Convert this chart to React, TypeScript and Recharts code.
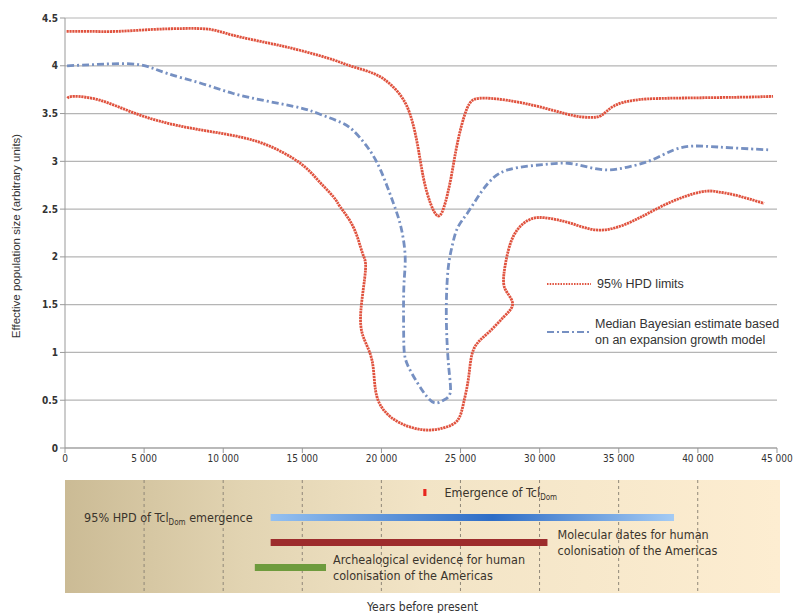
import {
  LineChart, Line, XAxis, YAxis, CartesianGrid, Legend,
  ComposedChart, Bar, Cell, LabelList,
} from 'recharts'

// ---- top panel: effective population size through time ----
const upperYears = [100, 1500, 3300, 5500, 7500, 9200, 10600, 12800, 14900, 17000, 18000, 19500, 20600, 21600, 22250, 22650, 23100, 23550, 23950, 24400, 24800, 25400, 26200, 27900, 30000, 32100, 33200, 33900, 34700, 36000, 38100, 42300, 44750]
const upperSize = [4.36, 4.36, 4.36, 4.38, 4.39, 4.38, 4.32, 4.24, 4.16, 4.06, 4.0, 3.92, 3.8, 3.58, 3.2, 2.83, 2.56, 2.43, 2.52, 2.83, 3.19, 3.55, 3.66, 3.64, 3.57, 3.48, 3.46, 3.48, 3.58, 3.64, 3.66, 3.67, 3.68]

const medianYears = [130, 1500, 2850, 4750, 6450, 8540, 10630, 12780, 14870, 16000, 17400, 18230, 19110, 19940, 20760, 21250, 21500, 21420, 21400, 21430, 21650, 22280, 22910, 23420, 23920, 24350, 24250, 24100, 24200, 24450, 24800, 25440, 26270, 27090, 27970, 29240, 30500, 31770, 33040, 34300, 35570, 37030, 38480, 39750, 41270, 43350, 44500]
const medianSize = [4.0, 4.01, 4.02, 4.01, 3.92, 3.82, 3.71, 3.63, 3.56, 3.5, 3.41, 3.32, 3.15, 2.91, 2.56, 2.3, 2.0, 1.7, 1.3, 1.03, 0.87, 0.68, 0.53, 0.47, 0.5, 0.58, 0.85, 1.37, 1.85, 2.1, 2.3, 2.46, 2.67, 2.83, 2.91, 2.95, 2.97, 2.98, 2.94, 2.91, 2.94, 3.01, 3.12, 3.16, 3.15, 3.13, 3.12]

const lowerYears = [150, 600, 2200, 4300, 6450, 8540, 10630, 12780, 14870, 16000, 16960, 17410, 18230, 18800, 18990, 18700, 18860, 19400, 19620, 20130, 21200, 22660, 23920, 24810, 25190, 25510, 25820, 26710, 27720, 28290, 27970, 27720, 27850, 28350, 29240, 30300, 32000, 33860, 35950, 38100, 40190, 41270, 42280, 44180]
const lowerSize = [3.66, 3.68, 3.64, 3.51, 3.4, 3.33, 3.27, 3.17, 2.98, 2.8, 2.63, 2.52, 2.31, 2.04, 1.86, 1.44, 1.16, 0.92, 0.61, 0.4, 0.26, 0.19, 0.21, 0.29, 0.47, 0.74, 1.03, 1.2, 1.37, 1.5, 1.62, 1.73, 1.94, 2.22, 2.38, 2.41, 2.35, 2.28, 2.38, 2.56, 2.68, 2.68, 2.65, 2.56]

const yearTicks = [0, 5000, 10000, 15000, 20000, 25000, 30000, 35000, 40000, 45000]
const sizeTicks = [0, 0.5, 1, 1.5, 2, 2.5, 3, 3.5, 4, 4.5]
const gridYears = [5000, 10000, 15000, 20000, 25000, 30000, 35000, 40000]

// ---- bottom panel: dated events ----
const timelineRows = ['emergence', 'hpd', 'molecular', 'archaeology']
const timelineStart = [22650, 13000, 13000, 12000]
const timelineEnd = [22850, 38500, 30500, 16500]
const timelineNotes = [
  ['Emergence of Tcl_Dom_'],
  ['95% HPD of Tcl_Dom_ emergence'],
  ['Molecular dates for human', 'colonisation of the Americas'],
  ['Archealogical evidence for human', 'colonisation of the Americas'],
]

const zip = (xs: number[], ys: number[]) => xs.map((x, i) => ({ x, y: ys[i] }))
const upperData = zip(upperYears, upperSize)
const medianData = zip(medianYears, medianSize)
const lowerData = zip(lowerYears, lowerSize)
const timelineData = timelineRows.map((row, i) => ({ row, span: [timelineStart[i], timelineEnd[i]] }))

const SANS = '"Liberation Sans", Arial, Helvetica, sans-serif'
const NARROW = '"Liberation Sans Narrow", "DejaVu Sans Condensed", Arial, sans-serif'
const HPD_RED = '#e0533f'
const MEDIAN_BLUE = '#7690c2'
const TIMELINE_MAX = 45200

const barFills = ['#e8261e', 'url(#hpdGrad)', '#9d2c2c', '#6e9b3d']
const noteSide = ['right', 'left', 'right', 'right']
const noteGap = [18, 18, 10, 7]

const fmtYears = (v: number) => (v === 0 ? '0' : `${v / 1000} 000`)

function rich(s: string) {
  return s.split('_').map((part, i) =>
    i % 2 ? (
      <tspan key={i} dy={3} fontSize={8}>{part}</tspan>
    ) : (
      <tspan key={i} dy={i > 0 ? -3 : 0}>{part}</tspan>
    ),
  )
}

function YTitle(props: any) {
  const vb = props.viewBox || {}
  const cx = 16
  const cy = (vb.y ?? 18) + (vb.height ?? 430) / 2 + 3
  return (
    <text
      x={cx} y={cy} transform={`rotate(-90, ${cx}, ${cy})`}
      textAnchor="middle" dominantBaseline="central"
      fontFamily={SANS} fontSize={11.5} fill="#333"
    >
      Effective population size (arbitrary units)
    </text>
  )
}

function XTitle(props: any) {
  const vb = props.viewBox || {}
  const cx = (vb.x ?? 65) + (vb.width ?? 715) / 2
  return (
    <text x={cx} y={(vb.y ?? 593) + 18} textAnchor="middle" fontFamily={NARROW} fontSize={12} fill="#333">
      Years before present
    </text>
  )
}

function LegendBox() {
  return (
    <div style={{ fontFamily: SANS, fontSize: 12.5, color: '#333', lineHeight: '16px' }}>
      <div style={{ display: 'flex', alignItems: 'center', height: 20 }}>
        <svg width={48} height={6}>
          <line x1={2} y1={3} x2={46} y2={3} stroke={HPD_RED} strokeWidth={2} strokeDasharray="1.5 1.2" />
        </svg>
        <span style={{ marginLeft: 4 }}>95% HPD limits</span>
      </div>
      <div style={{ display: 'flex', alignItems: 'center', marginTop: 22 }}>
        <svg width={48} height={6}>
          <line x1={2} y1={3} x2={46} y2={3} stroke={MEDIAN_BLUE} strokeWidth={2} strokeDasharray="7 3 2 3" />
        </svg>
        <span style={{ marginLeft: 2, whiteSpace: 'nowrap' }}>
          Median Bayesian estimate based<br />on an expansion growth model
        </span>
      </div>
    </div>
  )
}

function renderNote(props: any) {
  const { x, y, width, height, index } = props
  const lines = timelineNotes[index]
  const left = noteSide[index] === 'left'
  const tx = left ? x - noteGap[index] : x + width + noteGap[index]
  const cy = y + height / 2
  return (
    <g>
      {lines.map((ln, i) => (
        <text
          key={i} x={tx} y={cy + (i - (lines.length - 1) / 2) * 16 + 4}
          textAnchor={left ? 'end' : 'start'} fontFamily={NARROW} fontSize={12.5} fill="#3a342c"
        >
          {rich(ln)}
        </text>
      ))}
    </g>
  )
}

// vertical dashed guides at the same years as the ticks of the top axis
function guideXs(props: any) {
  const scale = props?.xAxis?.scale
  if (scale && typeof scale === 'function') return gridYears.map((v) => scale(v))
  const off = props?.offset || { left: 65, width: 715 }
  return gridYears.map((v) => off.left + (v / TIMELINE_MAX) * off.width)
}

export default function App() {
  return (
    <div style={{ position: 'absolute', left: 0, top: 0, width: 807, height: 613, background: '#fff' }}>
      <LineChart width={807} height={475} margin={{ top: 18, right: 30, bottom: 0, left: 0 }}>
        <CartesianGrid vertical={false} stroke="#b5b5b5" strokeWidth={1.2} />
        <XAxis
          type="number" dataKey="x" domain={[0, 45000]} ticks={yearTicks}
          tickFormatter={fmtYears} height={27}
          tick={{ fontSize: 10, fill: '#333', fontFamily: NARROW }}
          axisLine={{ stroke: '#999' }} tickLine={{ stroke: '#999' }} tickSize={5}
        />
        <YAxis
          type="number" dataKey="y" domain={[0, 4.5]} ticks={sizeTicks} width={65}
          tick={{ fontSize: 10, fill: '#333', fontFamily: NARROW, fontWeight: 'bold' }}
          axisLine={{ stroke: '#999' }} tickLine={{ stroke: '#999' }} tickSize={5}
          label={YTitle}
        />
        <Legend
          layout="horizontal" verticalAlign="middle" align="center"
          content={LegendBox}
          wrapperStyle={{ left: 545, top: 274, width: 262 }}
        />
        <Line data={upperData} dataKey="y" type="natural" stroke={HPD_RED} strokeWidth={2.8}
          strokeDasharray="2.2 0.7" dot={false} isAnimationActive={false} name="95% HPD limits" />
        <Line data={lowerData} dataKey="y" type="natural" stroke={HPD_RED} strokeWidth={2.8}
          strokeDasharray="2.2 0.7" dot={false} isAnimationActive={false} legendType="none" />
        <Line data={medianData} dataKey="y" type="natural" stroke={MEDIAN_BLUE} strokeWidth={2.8}
          strokeDasharray="7 3 2 3" dot={false} isAnimationActive={false} name="Median Bayesian estimate" />
      </LineChart>

      <ComposedChart
        layout="vertical" width={807} height={138} data={timelineData}
        margin={{ top: 5, right: 27, bottom: 0, left: 65 }}
      >
        <defs>
          <linearGradient id="panelBg" x1="0" y1="0" x2="1" y2="0">
            <stop offset="0%" stopColor="#cbbb95" />
            <stop offset="25%" stopColor="#e2d4b2" />
            <stop offset="50%" stopColor="#f2e4c6" />
            <stop offset="100%" stopColor="#fdedd1" />
          </linearGradient>
          <linearGradient id="hpdGrad" x1="0" y1="0" x2="1" y2="0">
            <stop offset="0%" stopColor="#94c0f0" />
            <stop offset="55%" stopColor="#2e6dc6" />
            <stop offset="100%" stopColor="#a4cbf4" />
          </linearGradient>
        </defs>
        <CartesianGrid
          horizontal={false} stroke="#8f8778" strokeDasharray="3 3"
          fill="url(#panelBg)" fillOpacity={1}
          verticalCoordinatesGenerator={guideXs}
        />
        <XAxis
          type="number" domain={[0, TIMELINE_MAX]} ticks={gridYears} height={20}
          tick={false} axisLine={false} tickLine={false} label={XTitle}
        />
        <YAxis type="category" dataKey="row" hide padding={{ top: 0, bottom: 13 }} />
        <Bar dataKey="span" barSize={7} isAnimationActive={false}>
          {timelineData.map((d, i) => (
            <Cell key={d.row} fill={barFills[i]} />
          ))}
          <LabelList dataKey="row" content={renderNote} />
        </Bar>
      </ComposedChart>
    </div>
  )
}
